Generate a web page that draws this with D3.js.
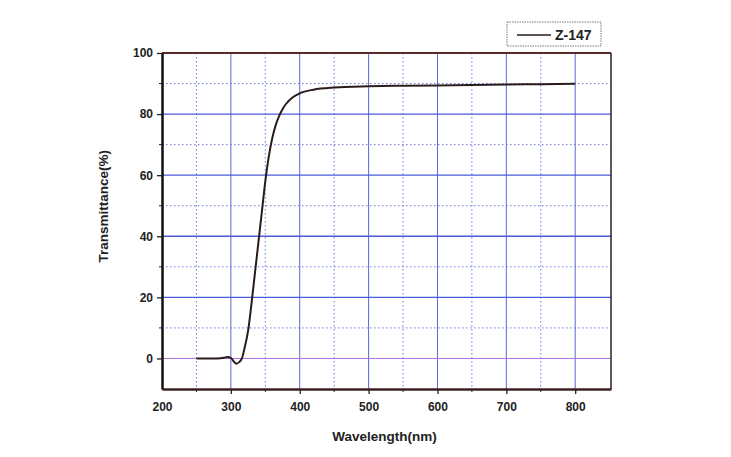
<!DOCTYPE html>
<html>
<head>
<meta charset="utf-8">
<script src="https://cdn.jsdelivr.net/npm/d3@7"></script>
<style>
  body { margin: 0; background: #fff; }
  text { font-family: "Liberation Sans", Arial, sans-serif; }
</style>
</head>
<body>
<div id="chart"></div>
<script>
// Data
const wavelength = [250, 260, 270, 280, 290, 295, 300, 305, 308, 312, 316, 320, 325, 330, 335, 340, 345, 350,
  355, 360, 365, 370, 375, 380, 390, 400, 420, 450, 500, 550, 600, 650, 700, 750, 800]
const transmittance = [0, 0, 0, 0, 0.2, 0.5, 0.2, -1.2, -1.7, -1.2, 0, 3.5, 9, 18, 28, 38, 48, 58,
  66, 72, 76.3, 79.3, 81.6, 83.3, 85.5, 86.8, 88, 88.7, 89.1, 89.3, 89.4, 89.5, 89.7, 89.8, 89.9]
const seriesName = 'Z-147'
const xTicks = [200, 300, 400, 500, 600, 700, 800]
const xMinor = [250, 350, 450, 550, 650, 750]
const yTicks = [0, 20, 40, 60, 80, 100]
const yMinor = [-10, 10, 30, 50, 70, 90]

// Dimensions
const dimensions = {
  width: 731,
  height: 457,
  margins: { top: 53, right: 120, bottom: 68, left: 162 },
}
dimensions.ctrWidth = dimensions.width - dimensions.margins.left - dimensions.margins.right
dimensions.ctrHeight = dimensions.height - dimensions.margins.top - dimensions.margins.bottom

const svg = d3.select('#chart')
  .append('svg')
  .attr('width', dimensions.width)
  .attr('height', dimensions.height)

const ctr = svg.append('g')
  .attr('transform', `translate(${dimensions.margins.left}, ${dimensions.margins.top})`)

// Scales
const xScale = d3.scaleLinear()
  .domain([200, 852])
  .range([0, dimensions.ctrWidth])

const yScale = d3.scaleLinear()
  .domain([-10, 100])
  .range([dimensions.ctrHeight, 0])

// Grid
const grid = ctr.append('g')

grid.selectAll('.vminor')
  .data(xMinor)
  .join('line')
  .attr('x1', d => xScale(d)).attr('x2', d => xScale(d))
  .attr('y1', 0).attr('y2', dimensions.ctrHeight)
  .attr('stroke', '#6a78d8')
  .attr('stroke-dasharray', '1.5,2.5')

grid.selectAll('.hminor')
  .data(yMinor.filter(d => d > -10))
  .join('line')
  .attr('x1', 0).attr('x2', dimensions.ctrWidth)
  .attr('y1', d => yScale(d)).attr('y2', d => yScale(d))
  .attr('stroke', '#6a78d8')
  .attr('stroke-dasharray', '1.5,2.5')

grid.selectAll('.vmajor')
  .data(xTicks.slice(1))
  .join('line')
  .attr('x1', d => xScale(d)).attr('x2', d => xScale(d))
  .attr('y1', 0).attr('y2', dimensions.ctrHeight)
  .attr('stroke', '#5a68d0')
  .attr('stroke-width', 1)

grid.selectAll('.hmajor')
  .data(yTicks.slice(0, -1))
  .join('line')
  .attr('x1', 0).attr('x2', dimensions.ctrWidth)
  .attr('y1', d => yScale(d)).attr('y2', d => yScale(d))
  .attr('stroke', d => d === 0 ? '#b070e0' : '#4a5ad8')
  .attr('stroke-width', d => d === 0 ? 1 : 1.3)

// Frame
ctr.append('line')
  .attr('x1', 0).attr('x2', dimensions.ctrWidth)
  .attr('y1', 0).attr('y2', 0)
  .attr('stroke', '#5a2a2a').attr('stroke-width', 2)
ctr.append('line')
  .attr('x1', dimensions.ctrWidth).attr('x2', dimensions.ctrWidth)
  .attr('y1', 0).attr('y2', dimensions.ctrHeight)
  .attr('stroke', '#2a2020').attr('stroke-width', 1.5)

// Axes
const xAxis = d3.axisBottom(xScale)
  .tickValues(xTicks)
  .tickSize(5)
  .tickSizeOuter(0)

const yAxis = d3.axisLeft(yScale)
  .tickValues(yTicks)
  .tickSize(5)
  .tickSizeOuter(0)

const xg = ctr.append('g')
  .attr('transform', `translate(0, ${dimensions.ctrHeight})`)
  .call(xAxis)
xg.selectAll('.tick').filter(d => d === 200).select('line').remove()

const yg = ctr.append('g')
  .call(yAxis)

// minor ticks
xg.selectAll('.minor')
  .data(xMinor)
  .join('line')
  .attr('x1', d => xScale(d)).attr('x2', d => xScale(d))
  .attr('y1', 0).attr('y2', 3)
  .attr('stroke', '#222')
yg.selectAll('.minor')
  .data(yMinor.filter(d => d > -10))
  .join('line')
  .attr('x1', 0).attr('x2', -3)
  .attr('y1', d => yScale(d)).attr('y2', d => yScale(d))
  .attr('stroke', '#222')

xg.select('.domain').attr('stroke', '#3a2222').attr('stroke-width', 2.5)
yg.select('.domain').attr('stroke', '#111').attr('stroke-width', 2.5)

for (const g of [xg, yg]) {
  g.selectAll('.tick line').attr('stroke', '#222').attr('stroke-width', 1.3)
  g.selectAll('.tick text')
    .attr('fill', '#222')
    .style('font-size', '12px')
    .style('font-weight', 'bold')
}
xg.selectAll('.tick text').attr('dy', '1.2em')
yg.selectAll('.tick text').attr('x', -9)

// Line
const line = d3.line()
  .x((d, i) => xScale(wavelength[i]))
  .y(d => yScale(d))
  .curve(d3.curveMonotoneX)

ctr.append('path')
  .datum(transmittance)
  .attr('fill', 'none')
  .attr('stroke', '#2b1c1c')
  .attr('stroke-width', 2)
  .attr('d', line)

// Axis titles
svg.append('text')
  .attr('x', dimensions.margins.left + xScale(500) + 16)
  .attr('y', 441)
  .attr('text-anchor', 'middle')
  .style('font-size', '13.5px')
  .style('font-weight', 'bold')
  .attr('fill', '#222')
  .text('Wavelength(nm)')

svg.append('text')
  .attr('transform', `translate(108, ${dimensions.margins.top + yScale(40) - 30}) rotate(-90)`)
  .attr('text-anchor', 'middle')
  .style('font-size', '13.5px')
  .style('font-weight', 'bold')
  .attr('fill', '#222')
  .text('Transmittance(%)')

// Legend
const legend = svg.append('g').attr('transform', 'translate(507, 22)')
legend.append('rect')
  .attr('width', 94).attr('height', 24)
  .attr('fill', '#fff')
  .attr('stroke', '#777')
  .attr('stroke-dasharray', '1.5,1')
legend.append('line')
  .attr('x1', 10).attr('x2', 44)
  .attr('y1', 13).attr('y2', 13)
  .attr('stroke', '#2b1c1c').attr('stroke-width', 1.5)
legend.append('text')
  .attr('x', 48).attr('y', 18)
  .style('font-size', '14px')
  .style('font-weight', 'bold')
  .attr('fill', '#222')
  .text(seriesName)
</script>
</body>
</html>
